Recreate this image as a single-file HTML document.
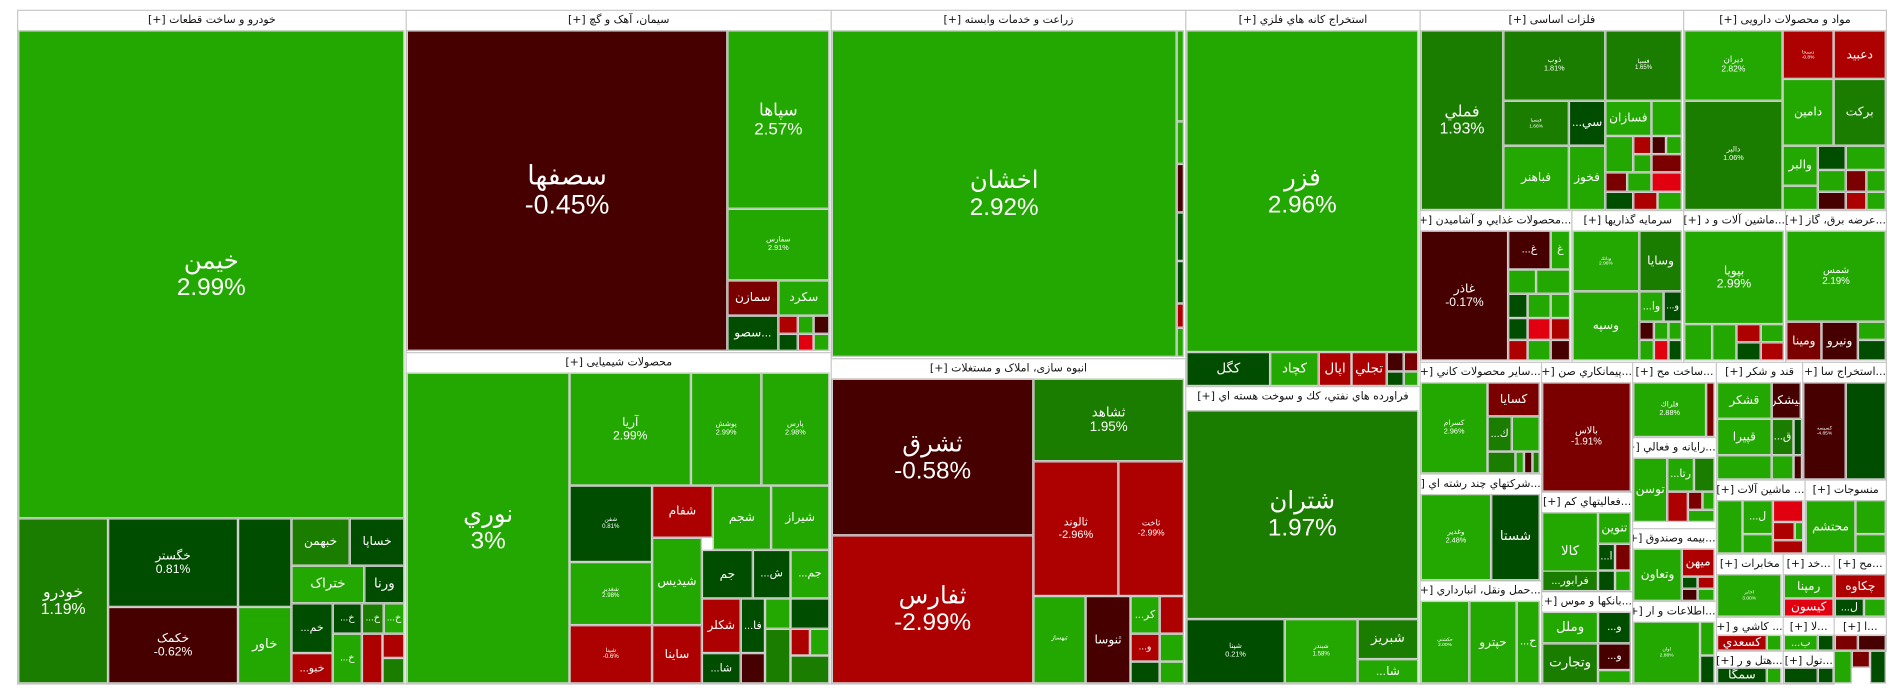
<!DOCTYPE html>
<html><head><meta charset="utf-8">
<style>
html,body{margin:0;padding:0;background:#fff;overflow:hidden;width:1904px;height:698px}
#w{position:absolute;left:0;top:0;width:1568px;height:575px;transform-origin:0 0;transform:scale(1.2143,1.2139)}
.c{position:absolute;box-sizing:border-box;border:1px solid #d0d0d0;color:#fff;display:flex;flex-direction:column;align-items:center;justify-content:center;text-align:center;font-family:"Liberation Sans","DejaVu Sans",sans-serif;line-height:1.1;overflow:hidden;white-space:nowrap}
.h{position:absolute;box-sizing:border-box;border:1px solid #c8c8c8;background:#fff;color:#111;font-family:"DejaVu Sans","Liberation Sans",sans-serif;font-size:9px;text-align:center;padding-top:3px;overflow:hidden;white-space:nowrap;direction:rtl}
</style></head><body><div id="w"></div>
<script>
var C={G:"#22a800",M:"#1b7d00",D:"#014d00",K:"#470000",R:"#ad0000",B:"#e0000f",W:"#7a0000"};
var H=[
[14,8,334,563,"خودرو و ساخت قطعات [+]"],
[334,8,684,290,"سیمان، آهک و گچ [+]"],
[334,290,684,563,"محصولات شیمیایی [+]"],
[684,8,976,295,"زراعت و خدمات وابسته [+]"],
[684,295,976,563,"انبوه سازی، املاک و مستغلات [+]"],
[976,8,1169,318,"استخراج کانه هاي فلزي [+]"],
[976,318,1169,563,"فراورده هاي نفتي، كك و سوخت هسته اي [+]"],
[1169,8,1386,173,"فلزات اساسی [+]"],
[1386,8,1553,173,"مواد و محصولات دارویی [+]"],
[1169,173,1294,298,"...محصولات غذايي و آشاميدن [+]"],
[1294,173,1386,298,"سرمايه گذاريها [+]"],
[1386,173,1470,298,"...ماشين آلات و د [+]"],
[1470,173,1553,298,"...عرضه برق، گاز [+]"],
[1169,298,1269,390,"...ساير محصولات كاني [+]"],
[1269,298,1344,405,"...پيمانكاري صن [+]"],
[1344,298,1413,360,"...ساخت مح [+]"],
[1413,298,1484,395,"قند و شكر [+]"],
[1484,298,1553,395,"...استخراج سا [+]"],
[1169,390,1269,478,"...شركتهاي چند رشته اي [+]"],
[1269,405,1344,487,"...فعاليتهاي كم [+]"],
[1269,487,1344,563,"...بانكها و موس [+]"],
[1169,478,1269,563,"...حمل ونقل، انبارداري [+]"],
[1344,360,1413,435,"...رايانه و فعالي [+]"],
[1413,395,1486,456,"... ماشين آلات [+]"],
[1486,395,1553,456,"منسوجات [+]"],
[1344,435,1413,495,"...بيمه وصندوق [+]"],
[1344,495,1413,563,"...اطلاعات و ار [+]"],
[1413,456,1468,508,"مخابرات [+]"],
[1468,456,1510,508,"...خد [+]"],
[1510,456,1553,508,"...مح [+]"],
[1413,508,1468,536,"... كاشي و [+]"],
[1468,508,1510,536,"...لا [+]"],
[1510,508,1553,536,"...ا [+]"],
[1413,536,1468,563,"...هتل و ر [+]"],
[1468,536,1510,563,"...تول [+]"]
];
var hh={};
var Q=[
// khodro
[15,25,333,427,"G","خیمن","2.99%",20],
[15,427,89,563,"M","خودرو","1.19%",13],
[89,427,196,500,"D","خگستر","0.81%",10],
[89,500,196,563,"K","خکمک","-0.62%",10],
[196,427,240,500,"D","","",5],
[196,500,240,563,"G","خاور","",11],
[240,427,288,466,"M","خبهمن","",10],
[288,427,333,466,"D","خساپا","",10],
[240,466,300,497,"G","ختراک","",11],
[300,466,333,497,"D","ورنا","",11],
[240,497,274,538,"D","...خم","",9],
[240,538,274,563,"R","...خبو","",9],
[274,497,298,522,"D","...خ","",8],[298,497,316,522,"M","...خ","",8],[316,497,333,522,"G","...خ","",8],
[274,522,298,563,"G","...خ","",8],[298,522,315,563,"R","","",8],[315,522,333,542,"R","","",8],[315,542,333,563,"M","","",8],
// siman
[335,25,599,289,"K","سصفها","-0.45%",22],
[599,25,683,172,"G","سپاها","2.57%",14],
[599,172,683,231,"G","سفارس","2.91%",6],
[599,231,641,260,"W","سمازن","",10],
[641,231,683,260,"G","سكرد","",10],
[599,260,641,289,"D","سصو...","",10],
[641,260,657,275,"R","","",5],[657,260,670,275,"G","","",5],[670,260,683,275,"K","","",5],[641,275,657,289,"D","","",5],[657,275,670,289,"B","","",5],[670,275,683,289,"G","","",5],
// shimi
[335,307,469,563,"G","نوري","3%",20],
[469,307,569,400,"G","آريا","2.99%",10],
[569,307,627,400,"G","پوشش","2.99%",6],
[627,307,683,400,"G","پارس","2.98%",6],
[469,400,537,463,"D","شفن","0.81%",5],
[537,400,587,443,"R","شفام","",10],
[587,400,635,453,"G","شجم","",10],
[635,400,683,453,"G","شيراز","",10],
[469,463,537,515,"G","شغدير","2.98%",5],
[537,443,578,515,"G","شيديس","",10],
[578,453,620,493,"D","جم","",10],
[620,453,651,493,"D","...ش","",9],
[651,453,683,493,"G","...جم","",9],
[469,515,537,563,"R","شپنا","-0.6%",5],
[537,515,578,563,"R","ساينا","",10],
[578,493,610,538,"R","شكلر","",10],
[578,538,610,563,"D","...شا","",9],
[610,493,630,538,"D","...فا","",9],[630,493,651,518,"G","","",5],[651,493,683,518,"D","","",5],
[610,538,630,563,"K","","",5],[630,518,651,563,"M","","",5],[651,518,667,540,"R","","",5],[667,518,683,540,"G","","",5],[651,540,683,563,"M","","",5],
// zeraat
[685,25,969,294,"G","اخشان","2.92%",20],
[969,25,975,100,"G","","",1],[969,100,975,135,"G","","",1],[969,135,975,175,"K","","",1],[969,175,975,215,"D","","",1],[969,215,975,250,"D","","",1],[969,250,975,270,"R","","",1],[969,270,975,294,"G","","",1],
// anbooh
[685,312,851,441,"K","ثشرق","-0.58%",20],
[685,441,851,563,"R","ثفارس","-2.99%",20],
[851,312,975,380,"M","ثشاهد","1.95%",11],
[851,380,921,491,"R","ثالوند","-2.96%",9],
[921,380,975,491,"R","ثاخت","-2.99%",7],
[851,491,894,563,"G","ثبهساز","",5],
[894,491,931,563,"K","ثنوسا","",10],
[931,491,955,522,"G","...كر","",9],[955,491,975,522,"R","","",5],[931,522,955,545,"R","...و","",8],[955,522,975,545,"G","","",5],[931,545,955,563,"D","","",5],[955,545,975,563,"G","","",5],
// kaneh
[977,25,1168,290,"G","فزر","2.96%",20],
[977,290,1046,318,"D","كگل","",11],
[1046,290,1086,318,"G","كچاد","",11],
[1086,290,1113,318,"R","اپال","",11],
[1113,290,1142,318,"R","تجلي","",11],
[1142,290,1156,306,"K","","",5],[1156,290,1168,306,"W","","",5],[1142,306,1156,318,"D","","",5],[1156,306,1168,318,"G","","",5],
// naft
[977,338,1168,510,"M","شتران","1.97%",20],
[977,510,1058,563,"D","شپنا","0.21%",6],
[1058,510,1118,563,"G","شبندر","1.58%",5],
[1118,510,1168,543,"M","شبريز","",11],
[1118,543,1168,563,"G","...شا","",10],
// felezat
[1170,25,1238,173,"M","فملي","1.93%",13],
[1238,25,1322,83,"M","ذوب","1.81%",6],
[1322,25,1385,83,"M","فسپا","1.65%",5],
[1238,83,1292,120,"M","فيسپا","1.66%",4],
[1292,83,1322,120,"D","...سي","",10],
[1322,83,1360,112,"G","فسازان","",10],
[1360,83,1385,112,"G","","",5],
[1238,120,1292,173,"G","فباهنر","",10],
[1292,120,1322,173,"G","فخوز","",10],
[1322,112,1345,142,"G","","",5],[1345,112,1360,127,"R","","",5],[1360,112,1372,127,"K","","",5],[1372,112,1385,127,"G","","",5],[1345,127,1360,142,"G","","",5],[1360,127,1385,142,"W","","",5],
[1322,142,1340,158,"W","","",5],[1340,142,1360,158,"G","","",5],[1360,142,1385,158,"B","","",5],[1322,158,1345,173,"D","","",5],[1345,158,1365,173,"R","","",5],[1365,158,1385,173,"G","","",5],
// daru
[1387,25,1468,83,"G","ديران","2.82%",7],
[1468,25,1510,65,"R","دسبحا","-0.8%",4],
[1510,25,1553,65,"R","دعبيد","",10],
[1468,65,1510,120,"G","دامين","",10],
[1510,65,1553,120,"M","بركت","",10],
[1387,83,1468,173,"M","دالبر","1.06%",6],
[1468,120,1497,153,"G","والبر","",10],
[1497,120,1520,140,"D","","",5],[1520,120,1553,140,"G","","",5],[1497,140,1520,158,"G","","",5],[1520,140,1537,158,"W","","",5],[1537,140,1553,158,"G","","",5],
[1468,153,1497,173,"G","","",5],[1497,158,1520,173,"K","","",5],[1520,158,1537,173,"R","","",5],[1537,158,1553,173,"G","","",5],
// ghazai
[1170,190,1242,297,"K","غاذر","-0.17%",10],
[1242,190,1277,222,"K","...غ","",9],[1277,190,1293,222,"G","غ","",9],
[1242,222,1265,242,"G","","",5],[1265,222,1293,242,"G","","",5],
[1242,242,1258,262,"D","","",5],[1258,242,1277,262,"G","","",5],[1277,242,1293,262,"G","","",5],
[1242,262,1258,280,"D","","",5],[1258,262,1277,280,"B","","",5],[1277,262,1293,280,"R","","",5],
[1242,280,1258,297,"R","","",5],[1258,280,1277,297,"G","","",5],[1277,280,1293,297,"K","","",5],
// sarmaye
[1295,190,1350,240,"G","وبانك","2.96%",4],
[1350,190,1385,240,"M","وسايا","",10],
[1295,240,1350,297,"G","وسپه","",10],
[1350,240,1370,265,"G","...وا","",9],[1370,240,1385,265,"D","...و","",8],
[1350,265,1362,280,"K","","",5],[1362,265,1374,280,"G","","",5],[1374,265,1385,280,"G","","",5],[1350,280,1362,297,"G","","",5],[1362,280,1374,297,"B","","",5],[1374,280,1385,297,"D","","",5],
// mashin
[1387,190,1469,267,"G","بپويا","2.99%",10],
[1387,267,1410,297,"G","","",5],[1410,267,1430,297,"G","","",5],[1430,267,1450,282,"R","","",5],[1450,267,1469,282,"G","","",5],[1430,282,1450,297,"D","","",5],[1450,282,1469,297,"R","","",5],
// bargh
[1471,190,1553,265,"G","شمس","2.19%",8],
[1471,265,1500,297,"W","ومينا","",10],
[1500,265,1530,297,"K","ونيرو","",10],
[1530,265,1553,280,"G","","",5],[1530,280,1553,297,"D","","",5],
// kani
[1170,315,1225,390,"G","كسرام","2.96%",6],
[1225,315,1268,343,"W","كسايا","",10],
[1225,343,1245,372,"M","...ك","",9],[1245,343,1268,372,"G","","",5],
[1225,372,1248,390,"M","","",5],[1248,372,1255,390,"G","","",5],[1255,372,1262,390,"K","","",5],[1262,372,1268,390,"M","","",5],
// peymankari
[1270,315,1343,405,"W","بالاس","-1.91%",8],
// sakht
[1345,315,1405,360,"G","فلراك","2.88%",6],[1405,315,1412,360,"W","","",5],
// ghand
[1414,315,1459,345,"G","قشكر","",10],[1459,315,1483,345,"K","نيشكر","",10],
[1414,345,1459,375,"G","قپيرا","",10],[1459,345,1477,375,"M","...ق","",9],[1477,345,1484,375,"D","","",5],
[1414,375,1459,395,"G","","",5],[1459,375,1477,395,"G","","",5],[1477,375,1484,395,"K","","",5],
// estekhraj sa
[1485,315,1520,395,"K","كسپسه","-4.85%",4],[1520,315,1553,395,"D","","",5],
// chand reshte
[1170,407,1228,478,"G","وغدير","2.48%",6],[1228,407,1268,478,"D","شستا","",11],
// fa'aliat kam
[1270,422,1316,487,"G","كالا","",11],[1316,422,1343,448,"G","تنوين","",10],
[1316,448,1330,470,"D","...ا","",9],[1330,448,1343,470,"W","","",5],
[1270,470,1316,487,"M","...فرابور","",9],[1316,470,1330,487,"D","","",5],[1330,470,1343,487,"G","","",5],
// bank
[1270,504,1316,530,"G","وملل","",11],[1316,504,1343,530,"D","...و","",9],
[1270,530,1316,563,"M","وتجارت","",11],[1316,530,1343,552,"K","...و","",9],[1316,552,1343,563,"G","","",5],
// haml
[1170,495,1210,563,"G","حكشتي","2.00%",4],[1210,495,1249,563,"G","حپترو","",10],[1249,495,1268,563,"G","...ح","",9],
// rayane
[1345,377,1373,430,"G","توسن","",10],[1373,377,1395,405,"G","...رتا","",9],[1395,377,1412,405,"M","","",5],
[1373,405,1390,430,"R","","",5],[1390,405,1402,420,"W","","",5],[1402,405,1412,420,"G","","",5],[1390,420,1412,430,"G","","",5],
// bime
[1345,452,1385,495,"G","وتعاون","",10],[1385,452,1412,475,"R","ميهن","",10],
[1385,475,1398,485,"D","","",5],[1398,475,1412,485,"R","","",5],[1385,485,1398,495,"K","","",5],[1398,485,1412,495,"G","","",5],
// ettelaat
[1345,512,1400,563,"G","اوان","2.88%",4],[1400,512,1412,540,"G","","",5],[1400,540,1412,563,"D","","",5],
// mashin2
[1414,412,1435,456,"G","","",5],[1435,412,1460,440,"G","...ل","",9],[1460,412,1485,430,"B","","",5],[1460,430,1478,445,"R","","",5],[1478,430,1485,445,"G","","",5],[1435,440,1460,456,"G","","",5],[1460,445,1485,456,"R","","",5],
// mansoojat
[1487,412,1528,456,"G","محتشم","",10],[1528,412,1553,440,"G","","",5],[1528,440,1553,456,"G","","",5],
// mokhaberat
[1414,473,1467,508,"G","اخابر","3.00%",4],
[1469,473,1510,493,"G","رمپنا","",10],[1469,493,1510,508,"B","كيسون","",10],
[1511,473,1553,493,"R","چكاوه","",10],[1511,493,1535,508,"D","...ل","",9],[1535,493,1553,508,"G","","",5],
// kashi
[1414,523,1455,536,"R","كسعدي","",10],[1455,523,1467,536,"G","","",5],
[1469,523,1497,536,"G","...ب","",9],[1497,523,1510,536,"D","","",5],
[1511,523,1530,536,"W","","",5],[1530,523,1553,536,"K","","",5],
// hotel
[1414,550,1455,563,"D","سمگا","",10],[1455,550,1467,563,"G","","",5],
[1469,550,1497,563,"D","","",5],[1497,550,1510,563,"D","","",5],
[1510,536,1525,563,"G","","",5],[1525,536,1540,550,"W","","",5],[1540,536,1553,563,"D","","",5]
];
var w=document.getElementById("w"),s="";
H.forEach(function(h){s+='<div class="h" style="left:'+h[0]+'px;top:'+h[1]+'px;width:'+(h[2]-h[0]+1)+'px;height:'+(h[3]-h[1]+1)+'px">'+h[4]+'</div>';});
Q.forEach(function(q){var fs=q[7];var t=q[5]?('<div style="font-size:'+fs+'px">'+q[5]+'</div>'):'';if(q[6])t+='<div style="font-size:'+fs+'px">'+q[6]+'</div>';
s+='<div class="c" style="left:'+q[0]+'px;top:'+q[1]+'px;width:'+(q[2]-q[0])+'px;height:'+(q[3]-q[1])+'px;background:'+C[q[4]]+'">'+t+'</div>';});
w.innerHTML=s;
</script></body></html>
